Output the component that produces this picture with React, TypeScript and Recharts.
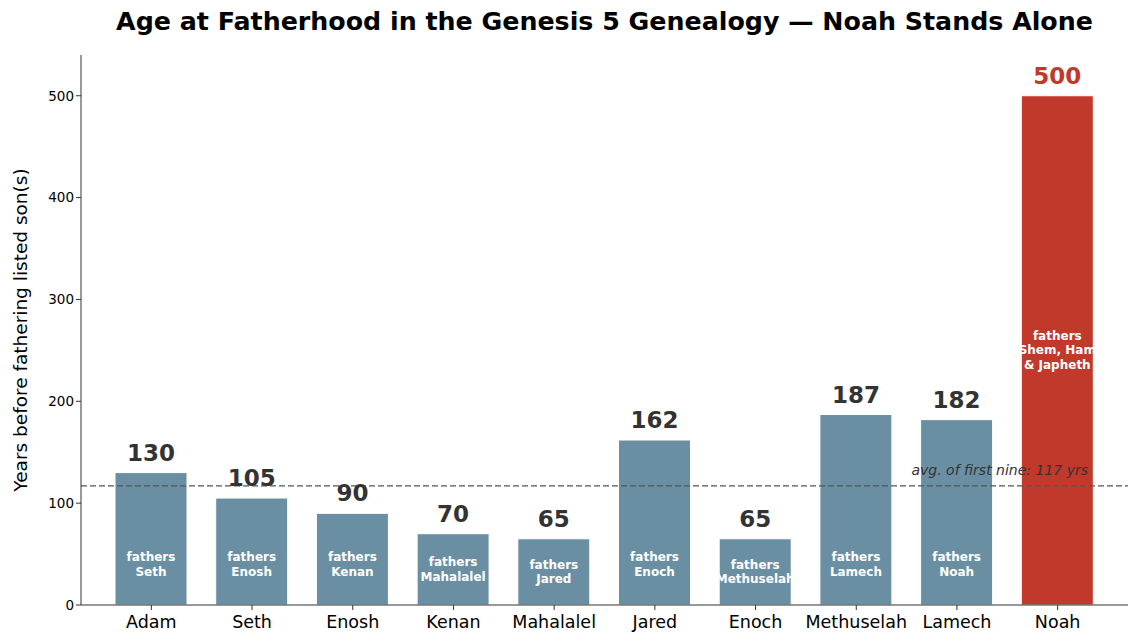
import React from "react"
import { BarChart, Bar, XAxis, YAxis, Cell, LabelList, ReferenceLine } from "recharts"

const names = ["Adam", "Seth", "Enosh", "Kenan", "Mahalalel", "Jared", "Enoch", "Methuselah", "Lamech", "Noah"]
const ages = [130, 105, 90, 70, 65, 162, 65, 187, 182, 500]
const sons = [
  ["Seth"],
  ["Enosh"],
  ["Kenan"],
  ["Mahalalel"],
  ["Jared"],
  ["Enoch"],
  ["Methuselah"],
  ["Lamech"],
  ["Noah"],
  ["Shem, Ham", "& Japheth"],
]
const yTicks = [0, 100, 200, 300, 400, 500]
const avgFirstNine = 117

const FONT = "'DejaVu Sans', sans-serif"
const BLUE = "#6a8fa3"
const RED = "#c0392b"

const data = names.map((name, i) => ({ name, age: ages[i], sons: sons[i] }))

function ValueLabel(props: any) {
  const { x, y, width, index } = props
  const isNoah = names[index] === "Noah"
  return (
    <text
      x={x + width / 2}
      y={y - 12}
      textAnchor="middle"
      fontFamily={FONT}
      fontWeight="bold"
      fontSize={23}
      fill={isNoah ? RED : "#333333"}
    >
      {ages[index]}
    </text>
  )
}

function InnerLabel(props: any) {
  const { x, y, width, height, index } = props
  const v = ages[index]
  // Noah's label sits mid-bar, the rest near the bottom
  const at = names[index] === "Noah" ? v / 2 : Math.min(v / 2, 40)
  const pxPerUnit = height / v
  const cy = y + height - at * pxPerUnit
  const lines = ["fathers", ...sons[index]]
  const start = cy - ((lines.length - 1) * 14.5) / 2
  return (
    <text textAnchor="middle" fontFamily={FONT} fontWeight="bold" fontSize={12} fill="#ffffff">
      {lines.map((l, k) => (
        <tspan key={k} x={x + width / 2} y={start + k * 14.5} dominantBaseline="central">
          {l}
        </tspan>
      ))}
    </text>
  )
}

function AvgLabel(props: any) {
  const { viewBox } = props
  return (
    <text
      x={viewBox.x + viewBox.width - 40}
      y={viewBox.y - 11}
      textAnchor="end"
      fontFamily={FONT}
      fontStyle="italic"
      fontSize={14}
      fill="#333333"
    >
      {`avg. of first nine: ${avgFirstNine} yrs`}
    </text>
  )
}

function YLabel(props: any) {
  const { viewBox } = props
  const cy = viewBox.y + viewBox.height / 2
  return (
    <text
      x={20}
      y={cy}
      transform={`rotate(-90, 20, ${cy})`}
      textAnchor="middle"
      dominantBaseline="central"
      fontFamily={FONT}
      fontSize={18.5}
      fill="#000"
    >
      Years before fathering listed son(s)
    </text>
  )
}

export default function App() {
  return (
    <div style={{ position: "absolute", left: 0, top: 0, width: 1140, height: 641, background: "#fff", fontFamily: FONT }}>
      <div
        style={{
          position: "absolute",
          left: 0,
          width: 1209,
          top: 7,
          textAlign: "center",
          fontSize: 25.3,
          fontWeight: "bold",
          color: "#000",
        }}
      >
        Age at Fatherhood in the Genesis 5 Genealogy — Noah Stands Alone
      </div>
      <BarChart width={1140} height={641} data={data} margin={{ top: 55, right: 12, bottom: 6, left: 21 }}>
        <XAxis
          dataKey="name"
          height={30}
          padding={{ left: 20, right: 20 }}
          tick={{ fill: "#000", fontSize: 17.5, fontFamily: FONT }}
          tickLine={{ stroke: "#333" }}
          axisLine={{ stroke: "#333", strokeWidth: 1 }}
          tickSize={5}
          tickMargin={6}
          interval={0}
        />
        <YAxis
          width={60}
          domain={[0, 540]}
          ticks={yTicks}
          tick={{ fill: "#000", fontSize: 13.5, fontFamily: FONT }}
          tickLine={{ stroke: "#333" }}
          axisLine={{ stroke: "#333", strokeWidth: 1 }}
          tickSize={5}
          label={YLabel}
        />
        <Bar dataKey="age" barSize={72} stroke="#ffffff" strokeWidth={1} isAnimationActive={false}>
          {data.map((d) => (
            <Cell key={d.name} fill={d.name === "Noah" ? RED : BLUE} />
          ))}
          <LabelList dataKey="age" content={ValueLabel} />
          <LabelList dataKey="age" content={InnerLabel} />
        </Bar>
        <ReferenceLine
          y={avgFirstNine}
          stroke="#555555"
          strokeWidth={1.3}
          strokeDasharray="6 3"
          label={AvgLabel}
        />
      </BarChart>
    </div>
  )
}
